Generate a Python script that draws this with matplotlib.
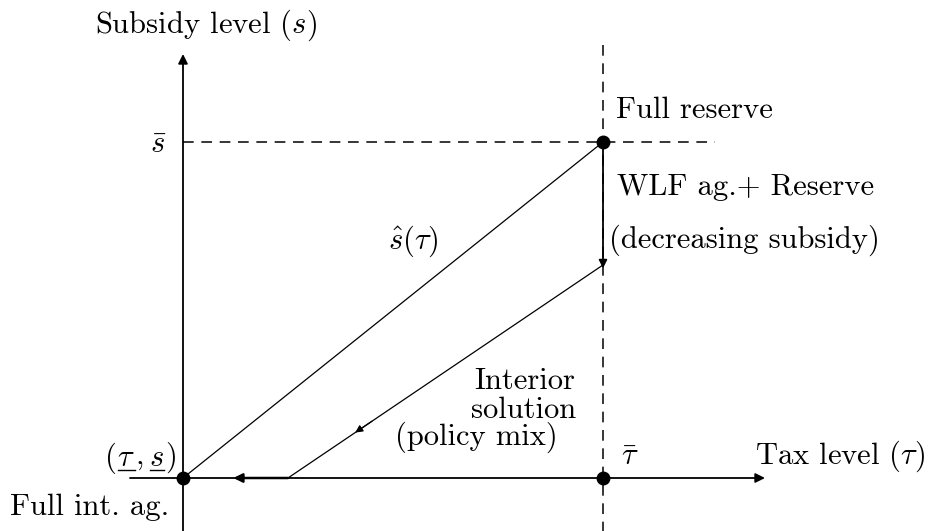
import numpy as np
import matplotlib
matplotlib.use('Agg')
import matplotlib.pyplot as plt

plt.rcParams['font.family'] = ['cmr10', 'DejaVu Serif']
plt.rcParams['mathtext.fontset'] = 'cm'
plt.rcParams['axes.unicode_minus'] = False

# policy space values (normalised: tau_bar = s_bar = 1)
tau_bar = 1.0
s_bar = 1.0
s_after_drop = 0.634      # subsidy level reached after WLF ag. + reserve
tau_interior_end = 0.25   # where the interior path meets the tax axis
tau_axis_arrow_end = 0.12
pts_tau = [0.0, tau_bar, tau_bar]
pts_s = [0.0, s_bar, 0.0]

W, H = 931, 531
x0, y0 = 183, 478          # pixel of origin
sx, sy = 420.0, 336.0      # pixels per unit

def px(p):
    return (p - x0) / sx

def py(p):
    return (y0 - p) / sy

fig = plt.figure(figsize=(W / 100, H / 100), dpi=100)
ax = fig.add_axes([0, 0, 1, 1])
ax.set_xlim(px(0), px(W))
ax.set_ylim(py(H), py(0))
ax.axis('off')

ax.annotate('', xy=(px(765), 0), xytext=(px(130), 0),
            arrowprops=dict(arrowstyle='-|>', color='black', lw=1.3, mutation_scale=14, shrinkA=0, shrinkB=0))
ax.annotate('', xy=(0, py(54)), xytext=(0, py(H + 5)),
            arrowprops=dict(arrowstyle='-|>', color='black', lw=1.3, mutation_scale=14, shrinkA=0, shrinkB=0))

# dashed guides
ax.plot([tau_bar, tau_bar], [py(45), py(H + 5)], color='black', lw=1.1, ls=(0, (7, 5)))
ax.plot([0, px(715)], [s_bar, s_bar], color='black', lw=1.1, ls=(0, (7, 5)))

# s_hat(tau)
ax.plot([0, tau_bar], [0, s_bar], color='black', lw=0.9)

# drop along tau_bar
ax.annotate('', xy=(tau_bar, s_after_drop - 0.01), xytext=(tau_bar, s_bar),
            arrowprops=dict(arrowstyle='-|>', color='black', lw=1.3, mutation_scale=12, shrinkA=0, shrinkB=0))

# interior path
ax.plot([tau_bar, tau_interior_end], [s_after_drop, 0], color='black', lw=0.9)
t_mid = 0.41
slope = s_after_drop / (tau_bar - tau_interior_end)
ax.annotate('', xy=(t_mid, slope * (t_mid - tau_interior_end)),
            xytext=(t_mid + 0.04, slope * (t_mid + 0.04 - tau_interior_end)),
            arrowprops=dict(arrowstyle='-|>', color='black', lw=0.9, mutation_scale=11, shrinkA=0, shrinkB=0))

# along tax axis to the left
ax.annotate('', xy=(tau_axis_arrow_end, 0), xytext=(tau_interior_end, 0),
            arrowprops=dict(arrowstyle='-|>', color='black', lw=1.8, mutation_scale=13, shrinkA=0, shrinkB=0))

ax.plot(pts_tau, pts_s, 'o', color='black', ms=9, zorder=5)

fs = 22
ax.text(px(95), py(25), 'Subsidy level ($s$)', fontsize=fs, ha='left', va='center')
ax.text(px(150), py(145), r'$\bar{s}$', fontsize=fs, ha='left', va='center')
ax.text(px(616), py(110), 'Full reserve', fontsize=fs, ha='left', va='center')
ax.text(px(388), py(241), r'$\hat{s}(\tau)$', fontsize=fs, ha='left', va='center')
ax.text(px(617), py(187), 'WLF ag.+ Reserve', fontsize=fs, ha='left', va='center')
ax.text(px(609), py(240), '(decreasing subsidy)', fontsize=fs, ha='left', va='center')
ax.text(px(525), py(381), 'Interior', fontsize=fs, ha='center', va='center')
ax.text(px(524), py(410), 'solution', fontsize=fs, ha='center', va='center')
ax.text(px(476), py(437), '(policy mix)', fontsize=fs, ha='center', va='center')
ax.text(px(630), py(457), r'$\bar{\tau}$', fontsize=fs, ha='center', va='center')
ax.text(px(755), py(456), r'Tax level ($\tau$)', fontsize=fs, ha='left', va='center')
ax.text(px(10), py(507), 'Full int. ag.', fontsize=fs, ha='left', va='center')

# (tau_underline, s_underline) built from pieces so the underlines sit right
fig.canvas.draw()
renderer = fig.canvas.get_renderer()
pieces = [r'$($', r'$\tau$', r'$,$', r'$s$', r'$)$']
gaps = [0, 1, 0, 6, 1]
widths = []
for p in pieces:
    t = ax.text(0, 0, p, fontsize=fs)
    widths.append(t.get_window_extent(renderer).width)
    t.remove()
total = sum(widths) + sum(gaps)
xp = 176 - total
for p, w, g in zip(pieces, widths, gaps):
    xp += g
    ax.text(px(xp), py(458), p, fontsize=fs, ha='left', va='center')
    if p in (r'$\tau$', r'$s$'):
        ax.plot([px(xp + 1), px(xp + w)], [py(470), py(470)], color='black', lw=1.0)
    xp += w

fig.savefig('out.png', dpi=100)
